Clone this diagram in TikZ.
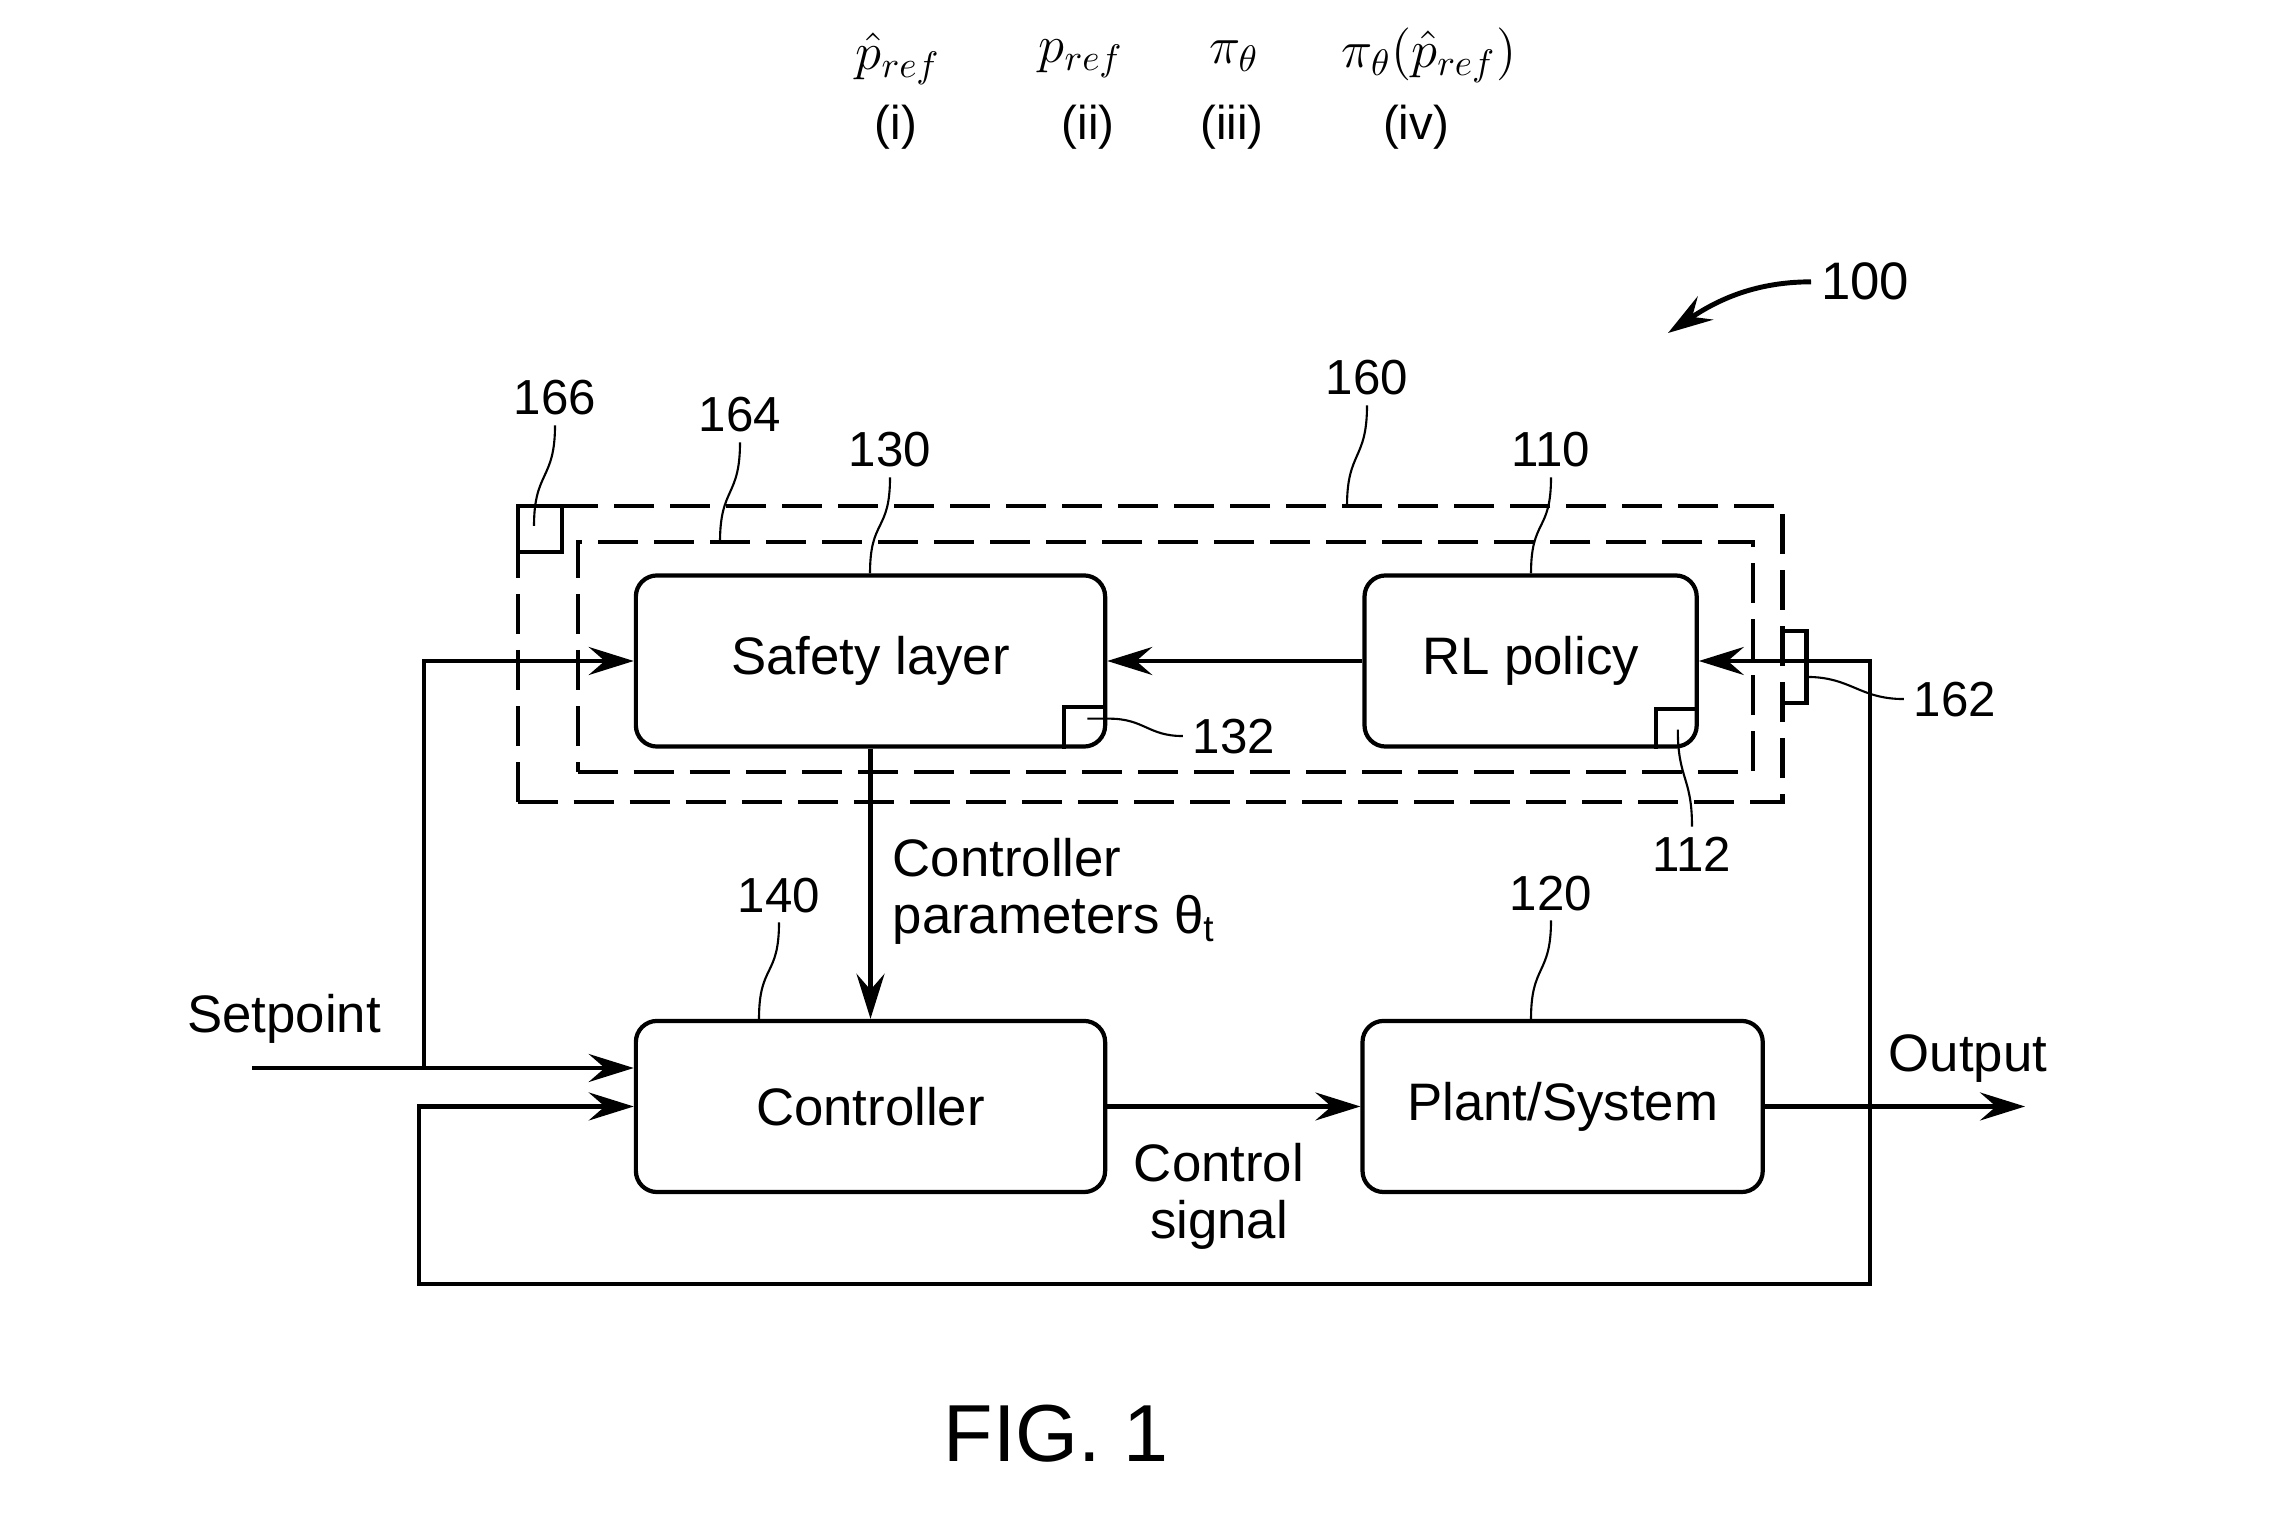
\documentclass[tikz,border=0pt]{standalone}
\usepackage{fix-cm}
\usepackage{fontspec}
\setmainfont{Liberation Sans}
\usetikzlibrary{arrows.meta, positioning, calc}

\begin{document}
\begin{tikzpicture}[x=0.01cm, y=-0.01cm,
  block/.style={draw, line width=1.2pt, rounded corners=6pt, inner sep=0pt,
    minimum height=1.71cm, font=\fontsize{15}{18}\selectfont},
  frame/.style={draw, line width=1.2pt, dash pattern=on 4mm off 1.6mm,
    inner sep=0pt, outer sep=0pt},
  txt/.style={font=\fontsize{15}{16}\selectfont, inner sep=0pt},
  refnum/.style={font=\fontsize{14}{16}\selectfont, inner sep=0pt, outer sep=1mm, anchor=base},
  formula/.style={font=\fontsize{15}{18}\selectfont, inner sep=0pt, anchor=base},
  leader/.style={line width=0.6pt},
  sig/.style={line width=1.2pt},
  >={Stealth[length=4.5mm, width=2.8mm, inset=1.6mm]}]
  \useasboundingbox (0,0) rectangle (2288,1531);

  \node[formula] (f1) at (898,70) {$\hat{p}_{ref}$};
  \node[formula] (f2) at (1081,63) {$p_{ref}$};
  \node[formula] (f3) at (1234,64) {$\pi_{\theta}$};
  \node[formula] (f4) at (1429,68) {$\pi_{\theta}(\hat{p}_{ref})$};
  \foreach \x/\t in {896/i, 1088/ii, 1232/iii, 1416/iv}
    \node[anchor=base, inner sep=0pt, font=\fontsize{13.5}{16}\selectfont] (r\t) at (\x,140) {(\t)};

  \node[frame, minimum width=12.64cm, minimum height=2.96cm] (outer) at (1150,654) {};
  \node[frame, minimum width=11.75cm, minimum height=2.30cm] (inner) at (1165.5,657) {};

  \node[block, minimum width=4.69cm] (safety) at (870.5,661) {Safety layer};
  \node[block, minimum width=3.32cm, right=2.55cm of safety] (rl) {RL policy};
  \node[block, minimum width=4.69cm, below=2.70cm of safety] (ctrl) {Controller};
  \node[block, minimum width=4.00cm, right=2.53cm of ctrl] (plant) {Plant/System};

  \node[refnum] (n166) at (555,415) {166};
  \node[refnum] (n164) at (740,432) {164};
  \node[refnum] (n130) at (890,467) {130};
  \node[refnum] (n160) at (1367,395) {160};
  \node[refnum] (n110) at (1551,467) {110};
  \node[refnum] (n140) at (779,912) {140};
  \node[refnum] (n120) at (1551,910) {120};
  \node[refnum] (n112) at (1692,871) {112};
  \node[refnum] (n162) at (1955,716) {162};
  \node[refnum] (n132) at (1234,753) {132};
  \node[refnum, font=\fontsize{15}{18}\selectfont] (n100) at (1865,300) {100};

  \foreach \n/\b in {n164/inner, n130/safety, n160/outer, n110/rl, n140/ctrl, n120/plant}
    \draw[leader] (\n.south) .. controls +(0,55) and +(0,-55) .. ($(\n.south |- \b.north)+(-20,0)$);
  \draw[leader] (n166.south) .. controls +(0,55) and +(0,-55) .. ($(n166.south |- outer.north)+(-21,20)$);

  \draw[sig] (outer.north west) rectangle +(44,46);
  \draw[sig] ($(outer.north east)+(0,125)$) -| ($(outer.north east)+(24,197)$) -- ($(outer.north east)+(0,197)$);
  \draw[sig] ($(safety.south east)+(-43,0)$) |- ($(safety.south east)+(0,-42)$);
  \draw[sig] ($(rl.south east)+(-43,0)$) |- ($(rl.south east)+(0,-40)$);

  \coordinate (s132) at ($(safety.south east)+(-20,-30)$);
  \coordinate (s112) at ($(rl.south east)+(-21,-19)$);
  \coordinate (s162) at ($(outer.north east)+(24,171)$);
  \draw[leader] (s132) -- ++(22,0) .. controls +(35,0) and +(-35,0) .. (n132.west);
  \draw[leader] (s112) .. controls +(0,50) and +(0,-50) .. (n112.north);
  \draw[leader] (s162) .. controls +(45,0) and +(-45,0) .. (n162.west);

  \coordinate (sp) at (252,1068);
  \coordinate (spbr) at (424,1068);
  \coordinate (fbr) at (1870,1284);
  \coordinate (fbl) at (419,1284);
  \coordinate (split) at (plant.east -| fbr);
  \coordinate[right=2.6cm of plant.east] (out);
  \draw[sig, ->] (sp) -- (sp -| ctrl.west);
  \draw[sig, ->] (spbr) |- (safety.west);
  \draw[sig, ->] (rl) -- (safety);
  \draw[sig, ->] (safety) -- (ctrl);
  \draw[sig, ->] (ctrl) -- (plant);
  \draw[sig, ->] (plant) -- (out);
  \draw[sig, ->] (split) |- (rl.east);
  \draw[sig, ->] (split) -- (fbr) -- (fbl) |- (ctrl.west);

  \node[txt, anchor=base] (setpt) at (284,1032) {Setpoint};
  \node[txt, anchor=base] (outlbl) at (1968,1071) {Output};
  \node[txt, anchor=north west, align=left] (params) at (892,838) {Controller\\parameters θ\textsubscript{t}};
  \node[txt, anchor=north, align=center] (csig) at (1219,1143) {Control\\signal};

  \coordinate (tip100) at (1668,333);
  \draw[line width=1.4pt, ->] (n100.west) .. controls +(-60,0) and +(45,-30) .. (tip100);

  \node[anchor=base, inner sep=0pt, font=\fontsize{23}{28}\selectfont] (fig) at (1056,1461) {FIG. 1};
\end{tikzpicture}
\end{document}
